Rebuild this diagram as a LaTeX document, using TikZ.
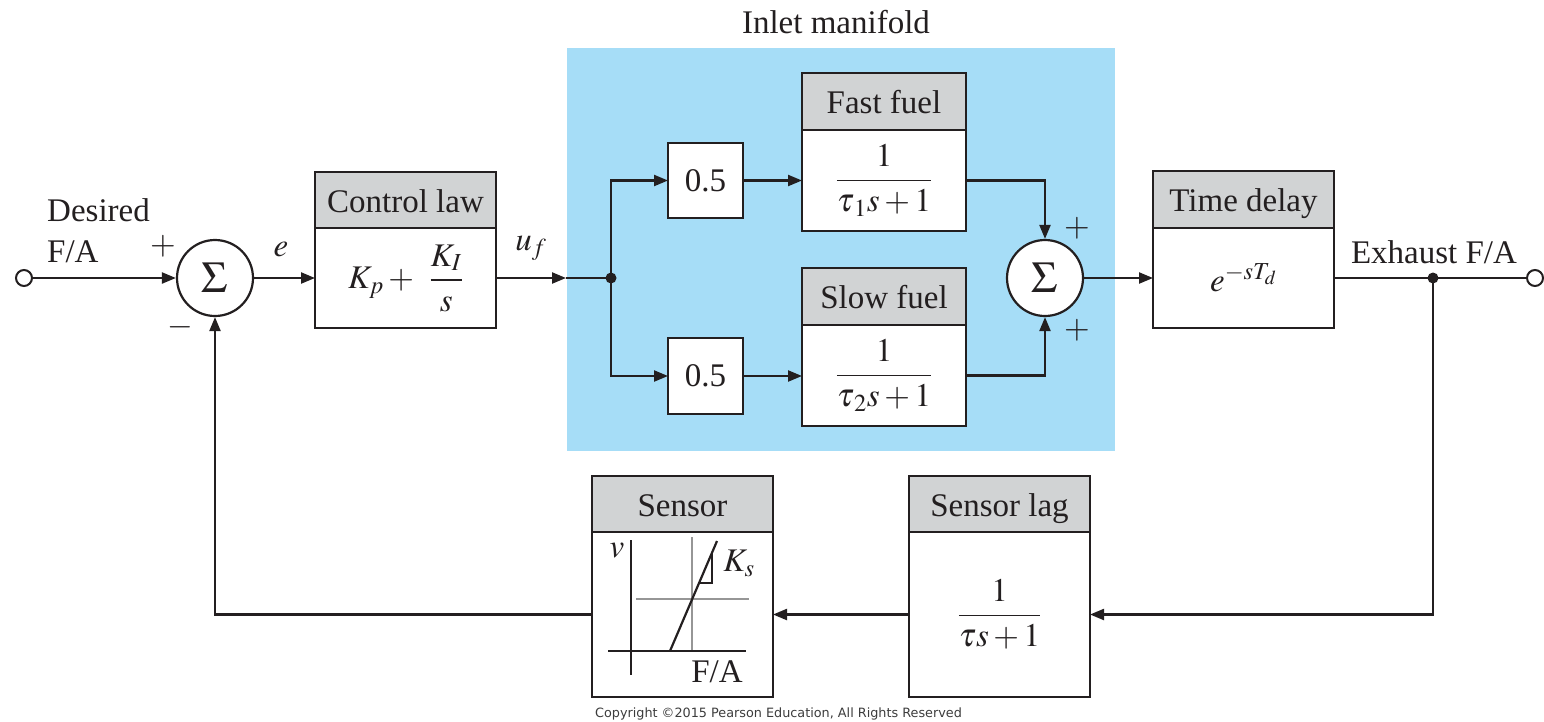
\documentclass[tikz,border=0pt]{standalone}
\usepackage{amsmath}
\usepackage{mathptmx}
\usepackage[no-math]{fontspec}
\setmainfont{Liberation Serif}
\newfontfamily\cpyfont{DejaVu Sans}
\usetikzlibrary{arrows.meta}
\definecolor{lc}{RGB}{35,31,32}
\definecolor{hdrgray}{RGB}{209,211,212}
\definecolor{manblue}{RGB}{166,221,247}
\definecolor{gridgray}{RGB}{150,150,150}
\newcommand\bigf{\fontsize{33}{38}\selectfont}
\newcommand\sigf{\fontsize{44}{48}\selectfont}
\tikzset{
  ln/.style={line width=2.2pt, draw=lc},
  arr/.style={ln, -{Triangle[length=14pt,width=11pt]}},
  blk/.style={draw=lc, line width=2.2pt, fill=white, inner sep=0pt, outer sep=0pt, text=lc, font=\bigf},
  hdr/.style={blk, fill=hdrgray, text height=24pt, text depth=0pt},
  sumc/.style={circle, draw=lc, line width=2.2pt, fill=white, minimum size=76pt, inner sep=0pt, font=\sigf, text=lc},
  term/.style={circle, draw=lc, line width=2pt, fill=white, minimum size=16pt, inner sep=0pt},
  dotn/.style={circle, fill=lc, minimum size=11pt, inner sep=0pt},
  lbl/.style={font=\bigf, text=lc, inner sep=0pt},
}
\begin{document}
\begin{tikzpicture}[x=1pt,y=-1pt]
\useasboundingbox (0,0) rectangle (1544,721);
% manifold region
\node[fill=manblue, minimum width=548pt, minimum height=403pt, inner sep=0pt] (man) at (841,249.5) {};
\node[lbl] (manlbl) at (836,22) {Inlet manifold};
% left
\node[term] (in) at (24,278) {};
\node[lbl, anchor=west] (des1) at (47,210) {Desired};
\node[lbl, anchor=west] (des2) at (47,252) {F/A};
\node[sumc] (s1) at (215,278) {$\Sigma$};
\node[lbl] (p1) at (163,246) {$+$};
\node[lbl] (m1) at (180,327) {$-$};
\node[lbl] (elbl) at (281,250) {$e$};
% control law
\node[hdr, minimum width=181pt, minimum height=56pt] (clh) at (405.5,200) {Control law};
\node[blk, minimum width=181pt, minimum height=100pt] (clb) at (405.5,278) {$K_p +\;\, \dfrac{K_I}{s}$};
\node[lbl] (uf) at (531,248) {$u_f$};
\coordinate (mfin) at (566,278);
\coordinate (j) at (611,278);
% gains
\node[blk, minimum width=75pt, minimum height=75pt] (g1) at (705.5,180.5) {0.5};
\node[blk, minimum width=75pt, minimum height=76pt] (g2) at (705.5,376) {0.5};
% fuel blocks
\node[hdr, minimum width=164pt, minimum height=57pt] (ffh) at (884,101.5) {Fast fuel};
\node[blk, minimum width=164pt, minimum height=101pt] (ffb) at (884,180.5) {$\dfrac{1}{\tau_{\mkern2mu 1} s+1}$};
\node[hdr, minimum width=164pt, minimum height=57pt] (sfh) at (884,296.5) {Slow fuel};
\node[blk, minimum width=164pt, minimum height=101pt] (sfb) at (884,375.5) {$\dfrac{1}{\tau_{\mkern2mu 2} s+1}$};
\node[sumc] (s2) at (1045,278) {$\Sigma$};
\node[lbl] (p2) at (1077,228) {$+$};
\node[lbl] (p3) at (1077,330) {$+$};
% time delay
\node[hdr, minimum width=181pt, minimum height=57pt] (tdh) at (1243.5,199.5) {Time delay};
\node[blk, minimum width=181pt, minimum height=100pt] (tdb) at (1243.5,278) {$e^{-sT_d}$};
\node[lbl] (exh) at (1434,252) {Exhaust F/A};
\coordinate (k) at (1433,278);
\node[term] (out) at (1535,278) {};
% feedback blocks
\node[hdr, minimum width=181pt, minimum height=56pt] (slh) at (999.5,504) {Sensor lag};
\node[blk, minimum width=181pt, minimum height=165pt] (slb) at (999.5,614.5) {$\dfrac{1}{\tau s+1}$};
\node[hdr, minimum width=181pt, minimum height=56pt] (seh) at (682.5,504) {Sensor};
\node[blk, minimum width=181pt, minimum height=165pt] (seb) at (682.5,614.5) {};
% sensor characteristic
\draw[gridgray, line width=1.4pt] (692,537) -- (692,650);
\draw[gridgray, line width=1.4pt] (636,599) -- (749,599);
\draw[ln] (631,540) -- (631,675);
\draw[ln] (608,651) -- (746,651);
\draw[ln] (670,651) -- (717,541);
\draw[lc, line width=1.3pt] (699,583) -- (712,583) -- (712,553);
\node[lbl] (vlbl) at (617,551) {$v$};
\node[lbl] (kslbl) at (739,563) {$K_s$};
\node[lbl] (falbl) at (717,672) {F/A};
% connectors
\draw[arr] (in) -- (s1);
\draw[arr] (s1) -- (clb);
\draw[arr] (clb) -- (mfin);
\draw[ln] (mfin) -- (j);
\draw[arr] (j) |- (g1);
\draw[arr] (j) |- (g2);
\draw[arr] (g1) -- (ffb);
\draw[arr] (g2.east) -- (g2.east -| sfb.west);
\draw[arr] (ffb.east) -| (s2);
\draw[arr] (sfb.east) -| (s2);
\draw[arr] (s2) -- (tdb);
\draw[ln] (tdb) -- (out);
\draw[arr] (k) |- (slb);
\draw[arr] (slb) -- (seb);
\draw[arr] (seb.west) -| (s1);
\node[dotn] (jdot) at (j) {};
\node[dotn] (kdot) at (k) {};
% copyright
\node[font=\cpyfont\fontsize{12.8}{14}\selectfont, text={rgb,255:red,60;green,60;blue,60}, inner sep=0pt] (cpy) at (778.5,714) {Copyright \textcopyright 2015 Pearson Education, All Rights Reserved};
\end{tikzpicture}
\end{document}
